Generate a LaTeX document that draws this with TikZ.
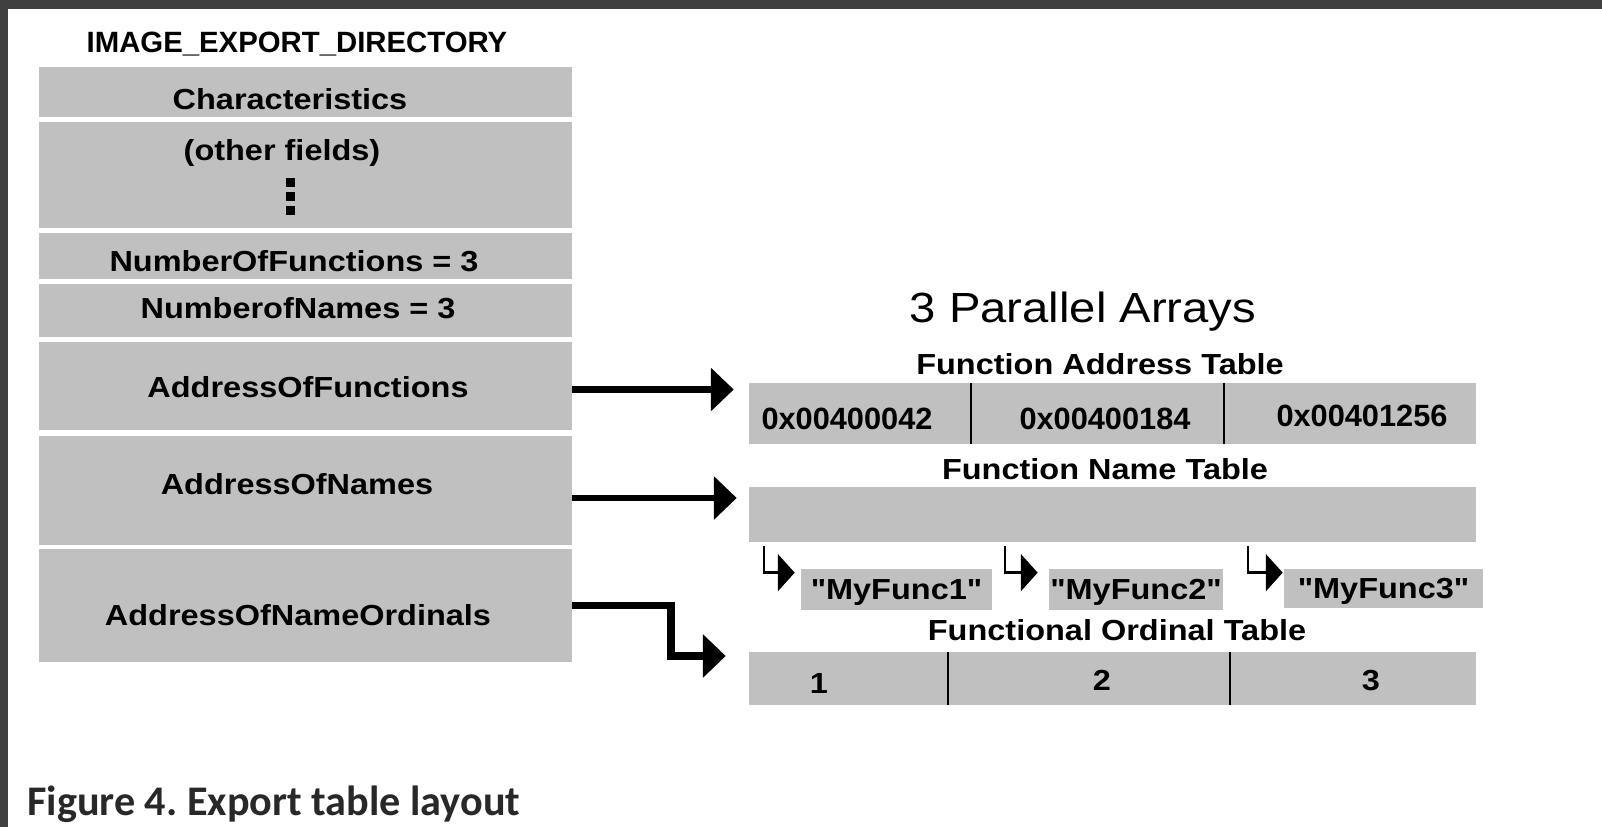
\documentclass[tikz,border=0pt]{standalone}
\usepackage{fontspec}
\setmainfont{Liberation Sans}
\newfontfamily\widefont[FakeStretch=1.12]{Liberation Sans}
\newfontfamily\capfont{Carlito}
\usetikzlibrary{arrows.meta,calc}
\definecolor{cellgray}{RGB}{192,192,192}
\definecolor{framegray}{RGB}{64,64,64}
\definecolor{capgray}{RGB}{40,40,40}

\begin{document}
\begin{tikzpicture}[x=0.02cm, y=-0.02cm,
  field/.style={rectangle, fill=cellgray, inner sep=0pt, minimum width=10.66cm},
  cell/.style={rectangle, fill=cellgray, inner sep=0pt, minimum width=14.54cm},
  namebox/.style={rectangle, fill=cellgray, inner sep=0pt, text depth=0pt, font=\widefont\fontsize{16.5}{18}\selectfont\bfseries},
  heading/.style={anchor=base, inner sep=0pt, font=\widefont\fontsize{16.5}{18}\selectfont\bfseries},
  entry/.style={anchor=base, inner sep=0pt, font=\fontsize{17.5}{19}\selectfont\bfseries},
  divider/.style={line width=1.1pt},
  bigarrow/.style={line width=4.5pt, -{Triangle[length=13pt, width=24pt]}},
  smallarrow/.style={line width=1.4pt, -{Triangle[length=9.6pt, width=21pt]}}]
	\fill[white] (0,0) rectangle (1602,827);
	\fill[framegray] (0,0) rectangle (1602,9);
	\fill[framegray] (0,0) rectangle (8,827);
	\useasboundingbox (0,0) rectangle (1602,827);

	\node[anchor=base, inner sep=0pt, font=\fontsize{16.7}{18}\selectfont\bfseries] (dirtitle) at (297,53) {IMAGE\_EXPORT\_DIRECTORY};
	\node[field, minimum height=1.00cm] (chars) at (305.5,92) {};
	\node[field, minimum height=2.12cm] (other) at (305.5,175) {};
	\node[field, minimum height=0.92cm] (nfuncs) at (305.5,256) {};
	\node[field, minimum height=1.06cm] (nnames) at (305.5,310.5) {};
	\node[field, minimum height=1.76cm] (afuncs) at (305.5,386) {};
	\node[field, minimum height=2.18cm] (anames) at (305.5,490.5) {};
	\node[field, minimum height=2.26cm] (aords) at (305.5,605.5) {};

	\node[heading] (charstxt) at (290,110) {Characteristics};
	\node[heading] (othertxt) at (282,161) {(other fields)};
	\fill (286,178) rectangle (295,187);
	\fill (286,192) rectangle (295,201);
	\fill (286,206) rectangle (295,215);
	\node[heading] (nfuncstxt) at (294,272) {NumberOfFunctions = 3};
	\node[heading] (nnamestxt) at (298,319) {NumberofNames = 3};
	\node[heading] (afuncstxt) at (308,398) {AddressOfFunctions};
	\node[heading] (anamestxt) at (297,494) {AddressOfNames};
	\node[heading] (aordstxt) at (298,625) {AddressOfNameOrdinals};

	\node[heading, font=\widefont\fontsize{24}{28}\selectfont] (parallel) at (1083,323) {3 Parallel Arrays};
	\node[heading] (fatlbl) at (1100,375) {Function Address Table};
	\node[cell, minimum height=1.22cm] (addr) at (1112.5,413.5) {};
	\draw[divider] (addr.north -| 971,0) -- (addr.south -| 971,0);
	\draw[divider] (addr.north -| 1224,0) -- (addr.south -| 1224,0);
	\node[entry] (hex1) at (847,429) {0x00400042};
	\node[entry] (hex2) at (1105,429) {0x00400184};
	\node[entry] (hex3) at (1362,426) {0x00401256};

	\node[heading] (fntlbl) at (1105,479) {Function Name Table};
	\node[cell, minimum height=1.10cm] (names) at (1112.5,514.5) {};
	\node[namebox, minimum width=3.82cm, minimum height=0.82cm] (myf1) at (896.5,589.5) {"MyFunc1"};
	\node[namebox, minimum width=3.48cm, minimum height=0.82cm] (myf2) at (1136,589.5) {"MyFunc2"};
	\node[namebox, minimum width=3.98cm, minimum height=0.78cm] (myf3) at (1383.5,588.5) {"MyFunc3"};
	\draw[smallarrow, shorten <=0.08cm] (names.south -| 764,0) |- ([xshift=-0.12cm, yshift=-0.08cm]myf1.north west);
	\draw[smallarrow, shorten <=0.08cm] (names.south -| 1005,0) |- ([xshift=-0.22cm, yshift=-0.08cm]myf2.north west);
	\draw[smallarrow, shorten <=0.08cm] (names.south -| 1248,0) |- ([xshift=-0.02cm, yshift=-0.08cm]myf3.north west);

	\node[heading] (fotlbl) at (1117,640) {Functional Ordinal Table};
	\node[cell, minimum height=1.06cm] (ords) at (1112.5,678.5) {};
	\draw[divider] (ords.north -| 948,0) -- (ords.south -| 948,0);
	\draw[divider] (ords.north -| 1230,0) -- (ords.south -| 1230,0);
	\node[heading] (ord1) at (819,693) {1};
	\node[heading] (ord2) at (1102,690) {2};
	\node[heading] (ord3) at (1371,690) {3};

	\draw[bigarrow, shorten >=0.3cm] ([yshift=-0.07cm]afuncs.east) -- ([yshift=-0.07cm]afuncs.east -| addr.west);
	\draw[bigarrow, line width=3.2pt, shorten >=0.24cm] ([yshift=-0.15cm]anames.east) -- ([yshift=-0.15cm]anames.east -| names.west);
	\draw[bigarrow] (aords.east) -- ++(99,0) |- ([xshift=-0.46cm, yshift=0.45cm]ords.west);

	\node[anchor=base west, inner sep=0pt, text=capgray, font=\capfont\fontsize{24}{28}\selectfont\bfseries] (caption) at (27,815) {Figure 4.\ Export table layout};
\end{tikzpicture}
\end{document}
